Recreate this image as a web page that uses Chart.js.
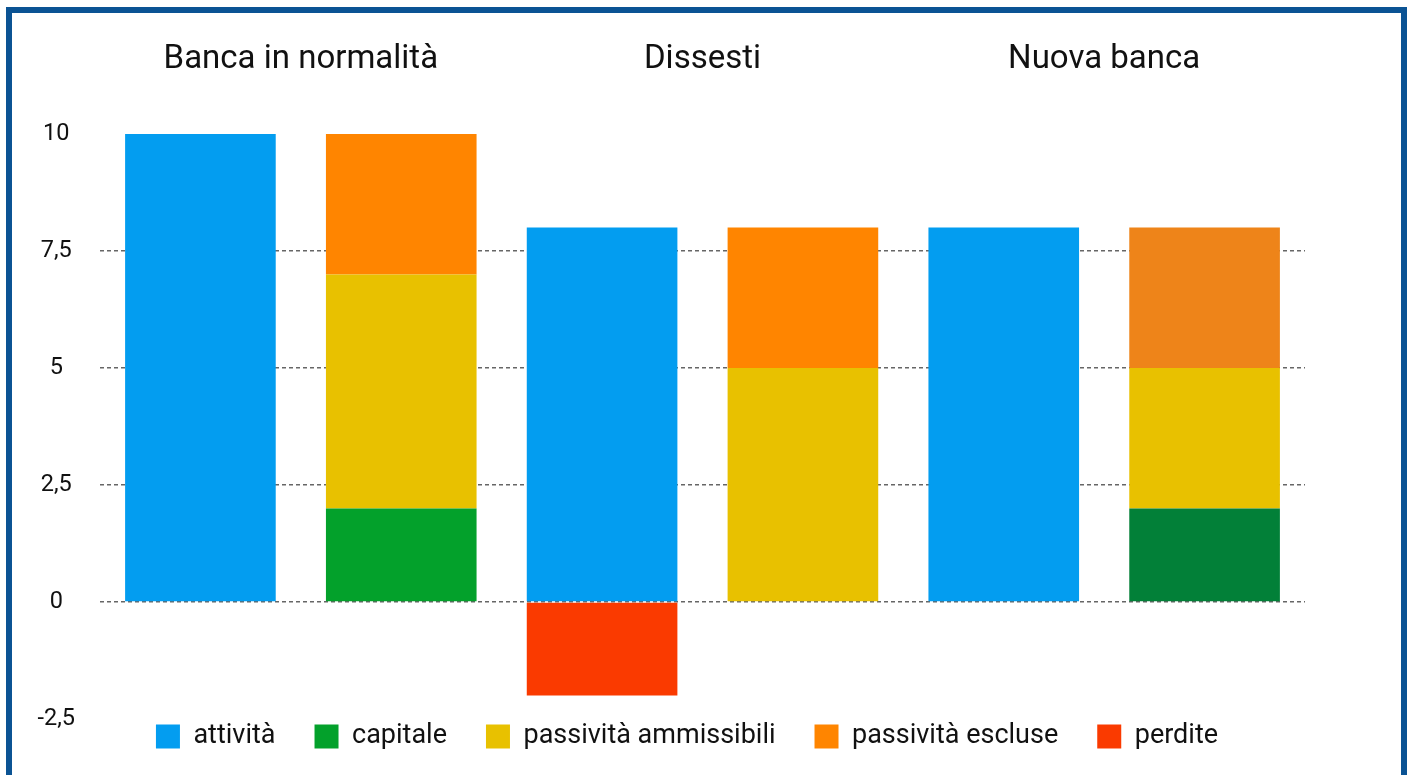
<!DOCTYPE html>
<html>
<head>
<meta charset="utf-8">
<script src="https://cdn.jsdelivr.net/npm/chart.js@4.4.0/dist/chart.umd.min.js"></script>
<style>
  html, body { margin: 0; padding: 0; background: #ffffff; overflow: hidden; }
  #frame { position: absolute; left: 6px; top: 7px; width: 1389px; height: 900px; border: 6px solid #0B5394; box-sizing: content-box; }
  #wrap { position: absolute; left: 0; top: 0; width: 1410px; height: 775px; }
</style>
</head>
<body>
<div id="frame"></div>
<div id="wrap"><canvas id="c" width="1410" height="775"></canvas></div>
<script>
// ---- data ----
const categories = ['', '', '', '', '', ''];
const groupLabels = ['Banca in normalità', 'Dissesti', 'Nuova banca'];
const seriesNames = ['attività', 'capitale', 'passività ammissibili', 'passività escluse', 'perdite'];
const attivita = [10, null, 8, null, 8, null];
const capitale = [null, 2, null, null, null, 2];
const passivitaAmmissibili = [null, 5, null, 5, null, 3];
const passivitaEscluse = [null, 3, null, 3, null, 3];
const perdite = [null, null, -2, null, null, null];
const yTicks = [-2.5, 0, 2.5, 5, 7.5, 10];

// ---- styles ----
const legendColors = ['#039DF0', '#03A12B', '#E8C100', '#FF8500', '#FA3A00'];
const capitaleColors = ['#03A12B', '#03A12B', '#03A12B', '#03A12B', '#03A12B', '#028038'];
const esclusiColors = ['#FF8500', '#FF8500', '#FF8500', '#FF8500', '#FF8500', '#EE8419'];
const FONT = 'Roboto, "Liberation Sans", Arial, sans-serif';
const TEXT = '#111111';
const LEGEND_PAD = 39;

const ds = (label, data, color) => ({
  label, data, backgroundColor: color, borderWidth: 0,
  barPercentage: 0.75, categoryPercentage: 1.0, stack: 's'
});

new Chart(document.getElementById('c'), {
  type: 'bar',
  data: {
    labels: categories,
    datasets: [
      ds(seriesNames[0], attivita, legendColors[0]),
      ds(seriesNames[1], capitale, capitaleColors),
      ds(seriesNames[2], passivitaAmmissibili, legendColors[2]),
      ds(seriesNames[3], passivitaEscluse, esclusiColors),
      ds(seriesNames[4], perdite, legendColors[4])
    ]
  },
  options: {
    responsive: false,
    animation: false,
    layout: { padding: { left: 12, right: 48, top: 14, bottom: 15 } },
    plugins: {
      tooltip: { enabled: false },
      legend: {
        position: 'bottom',
        title: { display: true, text: '', color: TEXT, font: { size: 1, lineHeight: 0 }, padding: { top: -(LEGEND_PAD - 4), bottom: 0 } },
        labels: {
          boxWidth: 24, boxHeight: 24, padding: LEGEND_PAD,
          color: TEXT, font: { family: FONT, size: 27 },
          generateLabels: () => seriesNames.map((n, i) => ({
            text: n, fillStyle: legendColors[i], strokeStyle: legendColors[i], fontColor: TEXT,
            lineWidth: 0, hidden: false, datasetIndex: i
          }))
        }
      }
    },
    scales: {
      x: { display: false, stacked: true },
      x2: {
        type: 'category', labels: groupLabels, position: 'top', offset: true,
        grid: { display: false, drawTicks: false }, border: { display: false },
        ticks: { color: TEXT, font: { family: FONT, size: 33 }, padding: 54 },
        afterFit: s => { s.height = 120; }
      },
      y: {
        stacked: true, min: -2.5, max: 10, z: 1,
        afterBuildTicks: s => { s.ticks = yTicks.map(v => ({ value: v })); },
        grid: {
          drawTicks: false, lineWidth: 1.5,
          color: c => (c.tick && (c.tick.value === 10 || c.tick.value === -2.5)) ? 'rgba(0,0,0,0)' : 'rgba(85,85,85,0.9)',
          tickBorderDash: [4, 3]
        },
        border: { display: false, dash: [4, 3] },
        ticks: {
          color: TEXT, font: { family: FONT, size: 23.5 }, padding: 25, crossAlign: 'center',
          callback: v => String(v).replace('.', ',')
        },
        afterFit: s => { s.width = 88; }
      },
      yR: {
        position: 'right', display: true,
        grid: { display: false, drawTicks: false }, border: { display: false },
        ticks: { display: false },
        afterFit: s => { s.width = 57; }
      }
    }
  }
});
</script>
</body>
</html>
